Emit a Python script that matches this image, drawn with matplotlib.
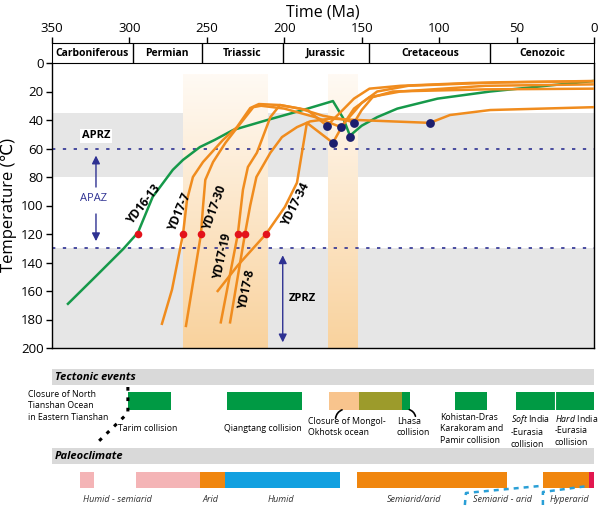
import numpy as np
import matplotlib
matplotlib.use("Agg")
import matplotlib.pyplot as plt
from matplotlib.colors import LinearSegmentedColormap

plt.rcParams['font.family'] = ['Open Sans', 'DejaVu Sans']
plt.rcParams['mathtext.fontset'] = 'custom'
plt.rcParams['mathtext.rm'] = 'Open Sans'
plt.rcParams['mathtext.it'] = 'Open Sans:italic'

# ---- data ----
period_names = ['Carboniferous', 'Permian', 'Triassic', 'Jurassic', 'Cretaceous', 'Cenozoic']
period_start = [350, 298, 253, 201, 145, 67]
period_end = [298, 253, 201, 145, 67, 0]

green_age = [339.7, 322, 304, 294.5, 285, 272, 265.4, 254.5, 245, 233, 211, 188, 168.6, 162, 157.6, 150, 140, 127, 101, 67, 0]
green_T = [169, 150, 130.5, 119, 94, 75, 68, 59, 54, 47, 40, 33, 26.7, 38.6, 51, 44, 38, 32, 25, 20, 12.6]

yd17_7_age = [279, 272.5, 265.4, 262.8, 259, 252.5, 239.6, 230.6, 222, 216.4, 202.8, 185, 172.5, 165, 155, 145, 125, 80, 0]
yd17_7_T = [183, 159, 120, 96, 80, 69.5, 54, 45, 31.6, 28.8, 29.5, 33, 44, 36, 25, 18, 16, 14, 12.6]

yd17_30_age = [263.5, 253.8, 252.5, 251, 246, 238, 230.6, 220, 215, 200, 180, 163.4, 158, 150, 140, 120, 60, 0]
yd17_30_T = [184.5, 120, 101, 82, 69.5, 56, 45.6, 31, 30, 32, 38, 45, 38, 28, 20, 16, 13.5, 12.8]

yd17_19_age = [241, 230, 226.7, 223.5, 217.7, 209, 202.8, 190, 175, 160, 155, 150, 143, 130, 70, 0]
yd17_19_T = [182, 120, 89, 73, 63, 38, 29.5, 32, 37, 40, 42, 33, 24, 20, 18.5, 18]

yd17_8_age = [235, 225.4, 222, 218, 209, 201.5, 191.8, 183.4, 170, 153, 130, 106, 93, 67, 0]
yd17_8_T = [182, 120, 100, 80, 63, 52, 45, 41, 39, 40, 41, 42, 36.5, 33, 31]

yd17_34_age = [243, 230, 211.8, 199.6, 191.8, 188, 185.4, 168.6, 163, 155, 145, 125, 70, 0]
yd17_34_T = [160, 142, 120, 101, 84, 59, 42, 56, 45, 32, 24, 20, 16, 15]

red_age = [294.5, 265.4, 253.8, 230, 225.4, 211.8]
red_T = [120, 120, 120, 120, 120, 120]
blue_age = [172.5, 163.4, 155, 168.6, 157.6, 106]
blue_T = [44, 45, 42, 56, 52, 42]

curve_labels = ['YD16-13', 'YD17-7', 'YD17-30', 'YD17-19', 'YD17-8', 'YD17-34']
label_age = [290.6, 267.4, 245, 239.6, 224, 192.5]
label_T = [99.6, 105, 102, 136, 159, 99.6]
label_rot = [52, 67, 70, 78, 78, 63]

highlight_start = [265.4, 171.8]
highlight_end = [210.6, 152.5]

tect_start = [301, 237, 171, 152, 124, 90, 50.5, 25]
tect_end = [273, 188.6, 152, 124, 119, 69, 25, 0]
tect_color = ['#009a44', '#009a44', '#f8c48d', '#9c9b2b', '#009a44', '#009a44', '#009a44', '#009a44']

clim_start = [332, 296, 254.5, 238, 153, 33, 3]
clim_end = [323, 254.5, 238, 164, 56, 3, 0]
clim_color = ['#f4b4b6', '#f4b4b6', '#f0860e', '#12a0e0', '#f0860e', '#f0860e', '#e2174f']
clim_labels = ['Humid - semiarid', 'Arid', 'Humid', 'Semiarid/arid', 'Semiarid - arid', 'Hyperarid']
clim_label_age = [330, 252.5, 210.6, 133.7, 78, 28.5]

orange = '#f08c1e'
green = '#16994a'
navy = '#2e3192'

fig = plt.figure(figsize=(5.99, 5.07), dpi=100)
L, W = 52 / 599, 542 / 599
ax = fig.add_axes([L, 1 - 348 / 507, W, 285 / 507])
axp = fig.add_axes([L, 1 - 63 / 507, W, 20 / 507])
axb = fig.add_axes([L, 0, W, 152 / 507])

# ---- main panel ----
ax.axhspan(35, 80, color='#e6e6e6', lw=0, zorder=0)
ax.axhspan(130, 200, color='#e6e6e6', lw=0, zorder=0)
cm = LinearSegmentedColormap.from_list('band', ['#fffaf4', '#f9d29d'])
grad = np.linspace(1, 0, 256).reshape(-1, 1)
for a0, a1 in zip(highlight_start, highlight_end):
    ax.imshow(grad, cmap=cm, extent=(a0, a1, 200, 8), origin='lower', aspect='auto', zorder=1)
ax.set_xlim(350, 0)
ax.set_ylim(200, 0)

for y in [60, 130]:
    ax.axhline(y, color=navy, lw=1.2, ls=(0, (2, 4.5)), zorder=2)

ax.plot(green_age, green_T, color=green, lw=1.8, zorder=3)
for a, t in [(yd17_7_age, yd17_7_T), (yd17_30_age, yd17_30_T), (yd17_19_age, yd17_19_T),
             (yd17_8_age, yd17_8_T), (yd17_34_age, yd17_34_T)]:
    ax.plot(a, t, color=orange, lw=1.8, zorder=3)
ax.scatter(red_age, red_T, s=30, color='#e3121b', zorder=5, lw=0)
ax.scatter(blue_age, blue_T, s=40, color='#1d1f6e', zorder=5, lw=0)

for s, a, t, r in zip(curve_labels, label_age, label_T, label_rot):
    ax.text(a, t, s, rotation=r, ha='center', va='center', fontsize=8.5, fontweight='bold', zorder=6)

ax.text(321.6, 51, 'APRZ', fontsize=8, fontweight='bold', ha='center', va='center', zorder=6,
        bbox=dict(facecolor='white', edgecolor='none', pad=1))
ax.text(323.5, 95, 'APAZ', fontsize=8, color=navy, ha='center', va='center', zorder=6)
ax.annotate('', xy=(321.6, 63), xytext=(321.6, 89),
            arrowprops=dict(arrowstyle='-|>', color=navy, lw=1, mutation_scale=12))
ax.annotate('', xy=(321.6, 127), xytext=(321.6, 104),
            arrowprops=dict(arrowstyle='-|>', color=navy, lw=1, mutation_scale=12))
ax.text(188.6, 165, 'ZPRZ', fontsize=8, fontweight='bold', ha='center', va='center', zorder=6)
ax.annotate('', xy=(201, 133), xytext=(201, 198),
            arrowprops=dict(arrowstyle='<|-|>', color=navy, lw=1, mutation_scale=12))

ax.set_yticks(range(0, 201, 20))
ax.tick_params(axis='y', labelsize=9.5, length=4, width=1, pad=2)
ax.set_xticks([])
ax.set_ylabel('Temperature (℃)', fontsize=12, labelpad=3)
ax.spines['top'].set_visible(False)
for s in ['left', 'bottom', 'right']:
    ax.spines[s].set_linewidth(1)

# ---- period strip ----
axp.set_xlim(350, 0)
axp.set_ylim(0, 1)
for n, a0, a1 in zip(period_names, period_start, period_end):
    axp.text((a0 + a1) / 2, 0.5, n, ha='center', va='center', fontsize=7.5, fontweight='bold')
    if a1 > 0:
        axp.axvline(a1, color='black', lw=1)
axp.set_yticks([])
axp.set_xticks(range(350, -1, -50))
axp.xaxis.tick_top()
axp.xaxis.set_label_position('top')
axp.tick_params(axis='x', labelsize=9.5, length=4, width=1, pad=2)
axp.set_xlabel('Time (Ma)', fontsize=11.5, labelpad=4)

# ---- bottom panels (y in pixel rows) ----
axb.set_xlim(350, 0)
axb.set_ylim(507, 355)
axb.axis('off')
axb.fill_between([350, 0], 369, 385, color='#d9d9d9', lw=0)
axb.text(348, 377, 'Tectonic events', fontsize=8, fontweight='bold', style='italic', va='center')
axb.fill_between([350, 0], 448, 464, color='#d9d9d9', lw=0)
axb.text(348, 456, 'Paleoclimate', fontsize=8, fontweight='bold', style='italic', va='center')

for a0, a1, c in zip(tect_start, tect_end, tect_color):
    axb.fill_between([a0, a1], 392, 410, color=c, lw=0)
axb.axvline(25, ymin=(507 - 410) / 152, ymax=(507 - 392) / 152, color='white', lw=0.8)

for a0, a1, c in zip(clim_start, clim_end, clim_color):
    axb.fill_between([a0, a1], 472, 488, color=c, lw=0)

fs = 6.3
axb.text(365.5, 390, 'Closure of North\nTianshan Ocean\nin Eastern Tianshan', fontsize=fs, va='top',
         linespacing=1.35, clip_on=False)
axb.plot([301, 301, 321], [387, 413, 443], color='black', lw=2.2, ls=(0, (1.2, 2.2)), clip_on=False)
axb.text(307.4, 428, 'Tarim collision', fontsize=fs, va='center')
axb.text(239, 428, 'Qiangtang collision', fontsize=fs, va='center')
axb.text(184.7, 417, 'Closure of Mongol-\nOkhotsk ocean', fontsize=fs, va='top', linespacing=1.35)
axb.annotate('', xy=(161, 409), xytext=(167, 421),
             arrowprops=dict(arrowstyle='-', color='black', lw=1.2, connectionstyle='arc3,rad=-0.4'))
axb.text(127.3, 417, 'Lhasa\ncollision', fontsize=fs, va='top', linespacing=1.35)
axb.annotate('', xy=(121, 409), xytext=(115, 419),
             arrowprops=dict(arrowstyle='-', color='black', lw=1.2, connectionstyle='arc3,rad=0.4'))
axb.text(99.5, 413, 'Kohistan-Dras\nKarakoram and\nPamir collision', fontsize=fs, va='top', linespacing=1.35)
axb.text(53.7, 413, '$\\mathit{Soft}$ India\n-Eurasia\ncollision', fontsize=fs, va='top', linespacing=1.35)
axb.text(25.3, 413, '$\\mathit{Hard}$ India\n-Eurasia\ncollision', fontsize=fs, va='top', linespacing=1.35,
         clip_on=False)

for s, a in zip(clim_labels, clim_label_age):
    axb.text(a, 499, s, fontsize=6.5, style='italic', va='center', color='#333333')
axb.plot([83.4, 82.7, 35], [505, 493, 486], color='#2a9fd6', lw=1.8, ls=(0, (2, 2)))
axb.plot([33, 33, 4], [505, 492, 486], color='#2a9fd6', lw=1.8, ls=(0, (2, 2)))

fig.savefig('out.png', dpi=100)
